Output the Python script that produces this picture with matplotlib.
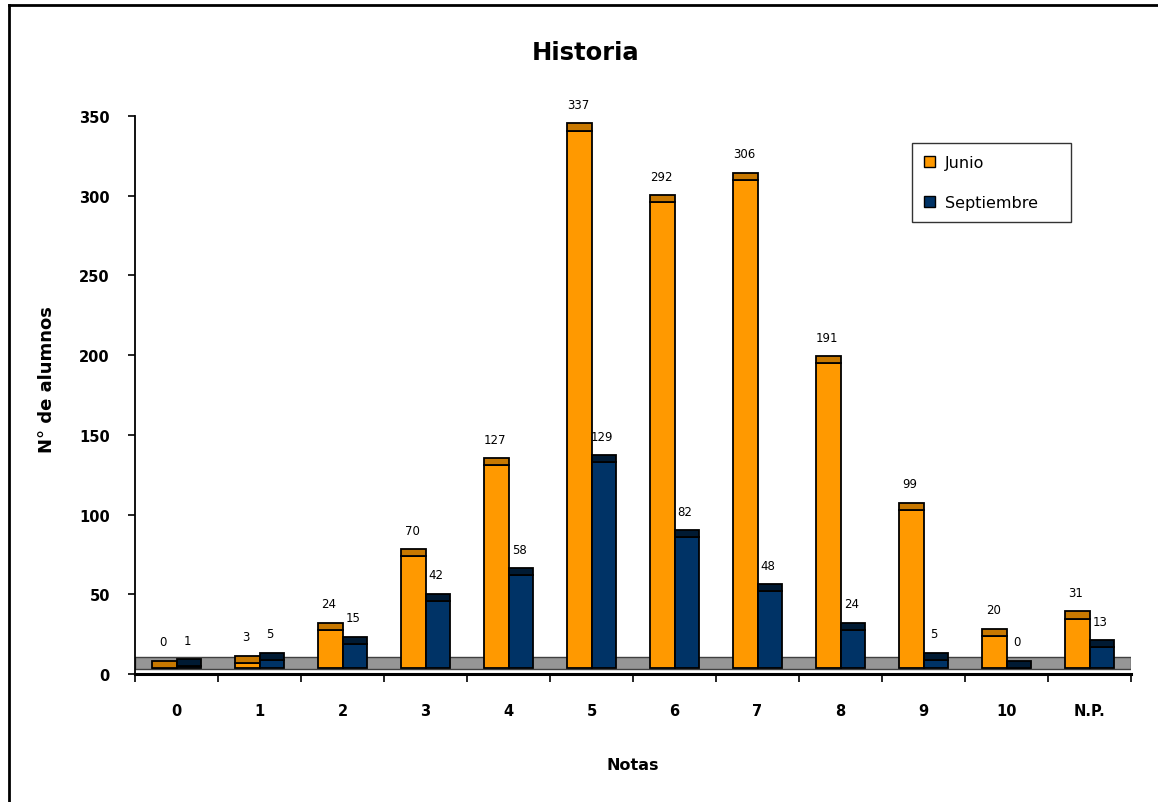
import numpy as np
import matplotlib
matplotlib.use("Agg")
import matplotlib.pyplot as plt
from matplotlib.lines import Line2D
from matplotlib.patches import Patch

# ================================
# DATA
# ================================
categories = ["0", "1", "2", "3", "4", "5", "6", "7", "8", "9", "10", "N.P."]
junio = [0, 3, 24, 70, 127, 337, 292, 306, 191, 99, 20, 31]
septiembre = [1, 5, 15, 42, 58, 129, 82, 48, 24, 5, 0, 13]

# ================================
# STYLE
# ================================
plt.rcParams["font.family"] = ["DejaVu Sans"]
orange, orange_top = "#FF9900", "#C87800"
navy, navy_top = "#003366", "#001A33"
floor_lo, floor_hi = 3.1, 10.7   # fake 3D floor band
lift = 3.8                       # bars sit on the floor
cap = 4.5                        # top face of the 3D bar

fig = plt.figure(figsize=(11.58, 8.03), dpi=100)
ax = fig.add_axes([135 / 1158, 1 - 675 / 803, (1131 - 135) / 1158, (675 - 117) / 803])

x = np.arange(len(categories)) + 0.5
w = 0.29

# floor
ax.axhspan(floor_lo, floor_hi, facecolor="#969696", edgecolor="#404040", lw=1.0, zorder=1)

j = np.array(junio, dtype=float)
s = np.array(septiembre, dtype=float)

for xs, vals, c, ct in [(x - w / 2, j, orange, orange_top), (x + w / 2, s, navy, navy_top)]:
    ax.bar(xs, vals, width=w, bottom=lift, color=c, edgecolor="black", lw=1.3, zorder=3)
    ax.bar(xs, cap, width=w, bottom=vals + lift, color=ct, edgecolor="black", lw=1.3, zorder=3)
    for xi, v in zip(xs, vals):
        ax.annotate(f"{int(v)}", (xi, v + lift + cap), xytext=(-1, 9), textcoords="offset points",
                    ha="center", va="bottom", fontsize=8.5, annotation_clip=False)

ax.set_xlim(0, len(categories))
ax.set_ylim(0, 350)
ax.set_yticks(np.arange(0, 351, 50))
ax.set_yticklabels([str(v) for v in range(0, 351, 50)], fontsize=10.5, fontweight="bold")
ax.set_xticks(np.arange(0, len(categories) + 1))
ax.set_xticklabels([])
ax.set_xticks(x, minor=True)
ax.set_xticklabels(categories, minor=True, fontsize=10.5, fontweight="bold")
ax.tick_params(axis="x", which="major", direction="out", length=6, width=1.2)
ax.tick_params(axis="x", which="minor", length=0, pad=21)
ax.tick_params(axis="y", direction="out", length=5, width=1.2, pad=13)

for side in ["top", "right"]:
    ax.spines[side].set_visible(False)
ax.spines["left"].set_linewidth(1.3)
ax.spines["bottom"].set_linewidth(2.2)

ax.set_xlabel("Notas", fontsize=11.5, fontweight="bold")
ax.xaxis.set_label_coords(0.5, -(758 - 675) / 558, transform=ax.transAxes)
ax.set_ylabel("N° de alumnos", fontsize=13, fontweight="bold")
ax.yaxis.set_label_coords(-(135 - 56) / 996, (675 - 380) / 558, transform=ax.transAxes)
fig.text(586 / 1158, 1 - 53 / 803, "Historia", fontsize=17.5, fontweight="bold", ha="center", va="center")

handles = [Patch(facecolor=orange, edgecolor="black"), Patch(facecolor=navy, edgecolor="black")]
leg = fig.legend(handles, ["Junio", "Septiembre"], loc="upper left", mode="expand",
                 bbox_to_anchor=(912 / 1158, 1 - 219 / 803, 159 / 1158, 75 / 803),
                 borderaxespad=0, fontsize=11.5, frameon=True, fancybox=False,
                 handlelength=0.7, handleheight=0.7, handletextpad=0.6,
                 labelspacing=1.55, borderpad=0.75)
leg.get_frame().set_edgecolor("black")
leg.get_frame().set_linewidth(1.0)

# outer chart frame (top and left visible)
fig.add_artist(Line2D([9 / 1158, 9 / 1158], [0, 1 - 6 / 803], transform=fig.transFigure, color="black", lw=2))
fig.add_artist(Line2D([9 / 1158, 1], [1 - 6 / 803, 1 - 6 / 803], transform=fig.transFigure, color="black", lw=2))

fig.savefig("out.png", dpi=100)
